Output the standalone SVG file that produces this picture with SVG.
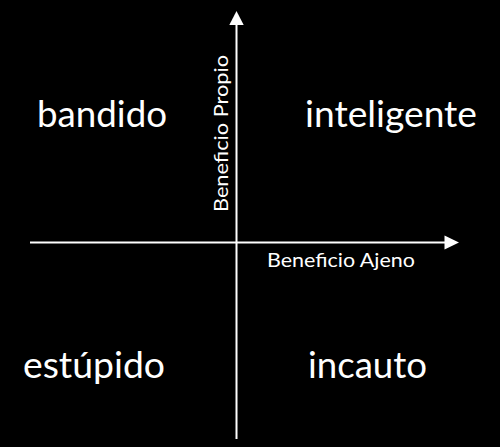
<svg xmlns="http://www.w3.org/2000/svg" width="500" height="447" viewBox="0 0 500 447">
<style>
.big{font-family:Lato,"Open Sans",sans-serif;font-size:36px;fill:#fff;text-anchor:middle}
.small{font-family:Lato,"Open Sans",sans-serif;font-size:20px;fill:#fff;text-anchor:middle}
.axis{stroke:#fff;stroke-width:2;fill:none}
</style>
<rect width="500" height="447" fill="#000"/>
<g id="connectors">
<line class="axis" x1="236.5" y1="439" x2="236.5" y2="24"/>
<polygon points="236.5,11 229.3,25 243.7,25" fill="#fff"/>
<line class="axis" x1="30" y1="242.5" x2="446" y2="242.5"/>
<polygon points="459,242.5 444.5,235.5 444.5,249.5" fill="#fff"/>
</g>
<g id="bandido"><text class="big" x="102" y="127" textLength="130" lengthAdjust="spacingAndGlyphs">bandido</text></g>
<g id="inteligente"><text class="big" x="391" y="127" textLength="172" lengthAdjust="spacingAndGlyphs">inteligente</text></g>
<g id="estupido"><text class="big" x="94" y="378" textLength="142" lengthAdjust="spacingAndGlyphs">estúpido</text></g>
<g id="incauto"><text class="big" x="367.5" y="378" textLength="119" lengthAdjust="spacingAndGlyphs">incauto</text></g>
<g id="beneficio-ajeno"><text class="small" x="341" y="267" textLength="148" lengthAdjust="spacingAndGlyphs">Beneficio Ajeno</text></g>
<g id="beneficio-propio"><text class="small" transform="translate(228,133.5) rotate(-90)" textLength="157" lengthAdjust="spacingAndGlyphs">Beneficio Propio</text></g>
</svg>
